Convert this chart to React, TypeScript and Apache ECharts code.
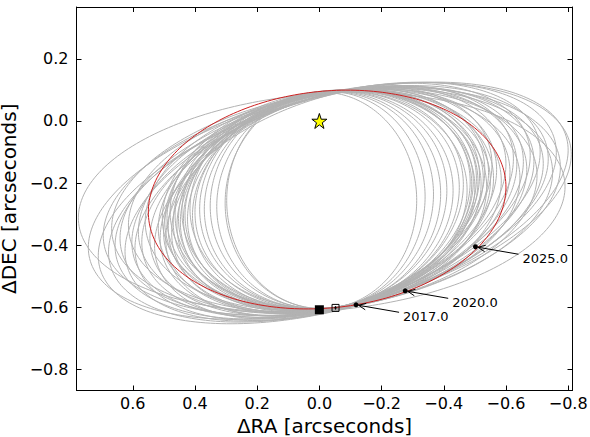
import React, { useEffect, useRef } from "react";
import * as echarts from "echarts";

// Orbit family: left (max ΔRA) and right (min ΔRA) extremes, tilt, top/bottom crossings at centre ΔRA
const orbitLeft = [0.775, 0.743, 0.711, 0.695, 0.678, 0.668, 0.657, 0.641, 0.625, 0.614, 0.603, 0.593, 0.582, 0.571, 0.56, 0.545, 0.53, 0.518, 0.512, 0.505, 0.501, 0.497, 0.494, 0.49, 0.486, 0.48, 0.475, 0.47, 0.464, 0.458, 0.453, 0.447, 0.442, 0.437, 0.432, 0.424, 0.416, 0.408, 0.4, 0.385, 0.37, 0.351, 0.33, 0.303, 0.298];
const orbitRight = [-0.79, -0.81, -0.8, -0.775, -0.762, -0.75, -0.736, -0.72, -0.71, -0.7, -0.69, -0.678, -0.667, -0.656, -0.645, -0.635, -0.624, -0.613, -0.6, -0.585, -0.57, -0.56, -0.555, -0.55, -0.544, -0.538, -0.532, -0.527, -0.52, -0.515, -0.51, -0.505, -0.5, -0.495, -0.49, -0.485, -0.475, -0.463, -0.45, -0.43, -0.41, -0.39, -0.367, -0.34, -0.313];
const orbitTilt = [-0.05, -0.15, -0.17, -0.11, -0.16, -0.09, -0.14, -0.12, -0.16, -0.08, -0.13, -0.15, -0.1, -0.13, -0.07, -0.12, -0.14, -0.09, -0.12, -0.06, -0.1, -0.07, -0.12, -0.06, -0.09, -0.04, -0.1, -0.07, -0.05, -0.08, -0.06, -0.07, -0.04, -0.06, -0.05, -0.06, -0.03, -0.05, -0.04, -0.03, -0.03, -0.02, -0.02, -0.01, 0.0];
const orbitTop = [0.088, 0.093, 0.086, 0.091, 0.089, 0.095, 0.087, 0.092, 0.09, 0.094, 0.088, 0.091, 0.093, 0.089, 0.096, 0.09, 0.087, 0.094, 0.091, 0.097, 0.092, 0.095, 0.089, 0.096, 0.093, 0.098, 0.09, 0.094, 0.097, 0.092, 0.095, 0.093, 0.097, 0.094, 0.096, 0.093, 0.097, 0.095, 0.094, 0.096, 0.095, 0.096, 0.094, 0.095, 0.093];
const orbitBottom = [-0.612, -0.608, -0.614, -0.609, -0.613, -0.606, -0.611, -0.607, -0.61, -0.605, -0.609, -0.612, -0.606, -0.61, -0.604, -0.608, -0.611, -0.605, -0.607, -0.603, -0.606, -0.604, -0.609, -0.603, -0.606, -0.602, -0.607, -0.605, -0.603, -0.606, -0.604, -0.605, -0.602, -0.604, -0.603, -0.605, -0.602, -0.604, -0.603, -0.604, -0.603, -0.604, -0.605, -0.604, -0.605];

// Best-fit orbit [left, right, tilt, top, bottom]
const bestOrbit = [0.55, -0.6, -0.04, 0.097, -0.603];

const starPosition = [0, 0];
const astrometryFilled = [[0.0, -0.608]];
const astrometryOpen = [[-0.052, -0.602]];

const epochLabels = ["2017.0", "2020.0", "2025.0"];
const epochRA = [-0.118, -0.276, -0.502];
const epochDEC = [-0.592, -0.547, -0.405];

const xTicks = [-0.8, -0.6, -0.4, -0.2, 0, 0.2, 0.4, 0.6];
const yTicks = [-0.8, -0.6, -0.4, -0.2, 0, 0.2];

const FONT = "'DejaVu Sans', sans-serif";
const fmt = (v: number) => {
  const s = (Math.abs(v) < 1e-9 ? 0 : v).toFixed(1);
  return s.replace("-", "\u2212");
};

const STAR =
  "path://M50,0 L61.8,35.3 L98.1,35.3 L68.5,57.1 L79.4,91.9 L50,70 L20.6,91.9 L31.5,57.1 L1.9,35.3 L38.2,35.3 Z";
const BOXPLUS = "path://M0,0 L10,0 L10,10 L0,10 Z M5,2.5 L5,7.5 M2.5,5 L7.5,5";

function orbitRenderer(color: string) {
  return (params: any, api: any) => {
    const xl = api.value(0);
    const xr = api.value(1);
    const s = api.value(2);
    const yt = api.value(3);
    const yb = api.value(4);
    const cx = (xl + xr) / 2;
    const w = (xl - xr) / 2;
    const cy = (yt + yb) / 2;
    const h = (yt - yb) / 2;
    const pts: number[][] = [];
    const n = 240;
    for (let k = 0; k <= n; k++) {
      const t = (k / n) * Math.PI * 2;
      pts.push(api.coord([cx + w * Math.cos(t), cy + s * Math.cos(t) + h * Math.sin(t)]));
    }
    return {
      type: "polyline",
      shape: { points: pts },
      style: { stroke: color, lineWidth: 1, fill: null },
      silent: true,
    };
  };
}

function annotationRenderer(params: any, api: any) {
  const p = api.coord([api.value(0), api.value(1)]);
  const i = params.dataIndex;
  const sx = p[0] + 43;
  const sy = p[1] + 7.5;
  const ex = p[0] + 2.5;
  const ey = p[1] + 0.5;
  const ang = Math.atan2(sy - ey, sx - ex);
  const L = 8;
  const sp = 0.42;
  const a1 = [ex + L * Math.cos(ang + sp), ey + L * Math.sin(ang + sp)];
  const a2 = [ex + L * Math.cos(ang - sp), ey + L * Math.sin(ang - sp)];
  return {
    type: "group",
    children: [
      { type: "line", shape: { x1: sx, y1: sy, x2: ex, y2: ey }, style: { stroke: "#000", lineWidth: 1 } },
      { type: "polyline", shape: { points: [a1, [ex, ey], a2] }, style: { stroke: "#000", lineWidth: 1, fill: null } },
      {
        type: "text",
        x: p[0] + 47,
        y: p[1] + 12,
        style: {
          text: epochLabels[i],
          fill: "#000",
          fontSize: 13,
          fontFamily: FONT,
          align: "left",
          verticalAlign: "middle",
        },
      },
    ],
  };
}

export default function App() {
  const ref = useRef<HTMLDivElement>(null);
  useEffect(() => {
    document.body.style.margin = "0";
    if (!ref.current) return;
    const chart = echarts.init(ref.current, undefined, { renderer: "svg" });

    const grayData = orbitLeft.map((l, i) => [l, orbitRight[i], orbitTilt[i], orbitTop[i], orbitBottom[i]]);
    const epochData = epochRA.map((x, i) => [x, epochDEC[i]]);

    const xBase = {
      type: "value",
      min: -0.814,
      max: 0.781,
      inverse: true,
      splitLine: { show: false },
      axisLine: { show: true, onZero: false, lineStyle: { color: "#000", width: 1 } },
      axisTick: { show: true, inside: true, length: 5, customValues: xTicks, lineStyle: { color: "#000", width: 1 } },
    };
    const yBase = {
      type: "value",
      min: -0.868,
      max: 0.367,
      splitLine: { show: false },
      axisLine: { show: true, onZero: false, lineStyle: { color: "#000", width: 1 } },
      axisTick: { show: true, inside: true, length: 5, customValues: yTicks, lineStyle: { color: "#000", width: 1 } },
    };

    chart.setOption({
      animation: false,
      grid: { left: 76.5, right: 17.5, top: 7, bottom: 46.5, containLabel: false, outerBoundsMode: "none" },
      xAxis: [
        {
          ...xBase,
          position: "bottom",
          axisLabel: { customValues: xTicks, formatter: fmt, color: "#000", fontSize: 16, fontFamily: FONT, margin: 5 },
          name: "\u0394RA [arcseconds]",
          nameLocation: "middle",
          nameGap: 24,
          nameTextStyle: { fontSize: 20, color: "#000", fontFamily: FONT },
        },
        { ...xBase, position: "top", axisLabel: { show: false } },
      ],
      yAxis: [
        {
          ...yBase,
          position: "left",
          axisLabel: { customValues: yTicks, formatter: fmt, color: "#000", fontSize: 16, fontFamily: FONT, margin: 8 },
          name: "\u0394DEC [arcseconds]",
          nameLocation: "middle",
          nameGap: 44,
          nameTextStyle: { fontSize: 20, color: "#000", fontFamily: FONT },
        },
        { ...yBase, position: "right", axisLabel: { show: false } },
      ],
      series: [
        {
          type: "custom",
          name: "orbits",
          xAxisIndex: 0,
          yAxisIndex: 0,
          clip: true,
          silent: true,
          renderItem: orbitRenderer("#b2b2b2"),
          data: grayData,
        },
        {
          type: "custom",
          name: "best",
          xAxisIndex: 0,
          yAxisIndex: 0,
          clip: true,
          silent: true,
          renderItem: orbitRenderer("#cc2020"),
          data: [bestOrbit],
        },
        {
          type: "scatter",
          xAxisIndex: 0,
          yAxisIndex: 0,
          symbol: STAR,
          symbolSize: 15,
          itemStyle: { color: "#ffff00", borderColor: "#000", borderWidth: 1, opacity: 1 },
          data: [starPosition],
          silent: true,
        },
        {
          type: "scatter",
          symbol: "rect",
          symbolSize: 9,
          itemStyle: { color: "#000", opacity: 1 },
          data: astrometryFilled,
          silent: true,
        },
        {
          type: "scatter",
          symbol: BOXPLUS,
          symbolSize: 7,
          itemStyle: { color: "rgba(0,0,0,0)", borderColor: "#000", borderWidth: 1, opacity: 1 },
          data: astrometryOpen,
          silent: true,
        },
        {
          type: "scatter",
          symbol: "circle",
          symbolSize: 5,
          itemStyle: { color: "#000", opacity: 1 },
          data: epochData,
          silent: true,
        },
        {
          type: "custom",
          xAxisIndex: 0,
          yAxisIndex: 0,
          clip: false,
          silent: true,
          renderItem: annotationRenderer,
          data: epochData,
        },
      ],
    });
    return () => chart.dispose();
  }, []);
  return <div ref={ref} style={{ width: 590, height: 437 }} />;
}
